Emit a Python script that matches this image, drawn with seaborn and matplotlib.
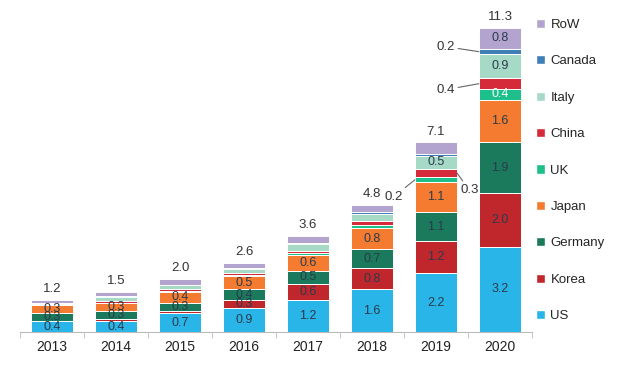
import matplotlib
matplotlib.use("Agg")
import matplotlib.pyplot as plt
import seaborn as sns
import numpy as np
import pandas as pd
from matplotlib.patches import Patch

sns.set_style("white")
plt.rcParams["font.family"] = ["Liberation Sans", "DejaVu Sans"]

# data, stacked bottom -> top
years = ["2013", "2014", "2015", "2016", "2017", "2018", "2019", "2020"]
us      = [0.4, 0.4, 0.7, 0.9, 1.2, 1.6, 2.2, 3.2]
korea   = [0.02, 0.08, 0.1, 0.3, 0.6, 0.8, 1.2, 2.0]
germany = [0.3, 0.3, 0.3, 0.4, 0.5, 0.7, 1.1, 1.9]
japan   = [0.3, 0.3, 0.4, 0.5, 0.6, 0.8, 1.1, 1.6]
uk      = [0.01, 0.02, 0.03, 0.03, 0.05, 0.1, 0.2, 0.4]
china   = [0.03, 0.07, 0.07, 0.08, 0.1, 0.15, 0.3, 0.4]
italy   = [0.04, 0.15, 0.15, 0.15, 0.25, 0.28, 0.5, 0.9]
canada  = [0.0, 0.02, 0.02, 0.02, 0.02, 0.05, 0.05, 0.2]
row     = [0.1, 0.16, 0.23, 0.22, 0.28, 0.28, 0.45, 0.8]
totals  = [1.2, 1.5, 2.0, 2.6, 3.6, 4.8, 7.1, 11.3]

series = {
    "US": (us, "#29b5e8"),
    "Korea": (korea, "#c0272d"),
    "Germany": (germany, "#1b7a5c"),
    "Japan": (japan, "#f47b2f"),
    "UK": (uk, "#1dbf8b"),
    "China": (china, "#d42a3a"),
    "Italy": (italy, "#a6d9c6"),
    "Canada": (canada, "#3f7fb6"),
    "RoW": (row, "#b3a4cf"),
}

main_labeled = ["US", "Korea", "Germany", "Japan"]
extra_labels = [("2019", "Italy"), ("2020", "Italy"), ("2020", "RoW"), ("2020", "UK")]
# (year, country, dx px, dy px, side) for labels with leader lines
leader_labels = [("2019", "UK", -12, -17, "left"), ("2019", "China", 3, -17, "right"),
                 ("2020", "Canada", -24, 5, "left"), ("2020", "China", -24, -6, "left")]

fig = plt.figure(figsize=(6.36, 3.79), dpi=100)
ax = fig.add_axes([20 / 636, 47 / 379, 512 / 636, 322 / 379])

txt_col = "#2b3a4c"
width = 0.66
bottom = np.zeros(len(years))
mids = {}
for name, (vals, col) in series.items():
    vals = np.array(vals)
    sns.barplot(x=years, y=vals, bottom=bottom, color=col, width=width,
                edgecolor="white", linewidth=0.7, ax=ax, saturation=1)
    for i, y in enumerate(years):
        mids[(y, name)] = (i, bottom[i] + vals[i] / 2, vals[i])
    bottom = bottom + vals

for (y, name), (i, m, v) in mids.items():
    show = (name in main_labeled and v >= 0.3) or (y, name) in extra_labels
    if show:
        c = "white" if name == "UK" else txt_col
        ax.text(i, m, f"{v:.1f}", ha="center", va="center", fontsize=9, color=c)

for y, name, dx, dy, side in leader_labels:
    i, m, v = mids[(y, name)]
    xe = i - width / 2 if side == "left" else i + width / 2
    ax.annotate(f"{v:.1f}", xy=(xe, m), xytext=(dx, dy), textcoords="offset pixels",
                ha="right" if side == "left" else "left", va="center", fontsize=9.5, color="#333333",
                arrowprops=dict(arrowstyle="-", color="#666666", lw=0.8, shrinkA=0, shrinkB=0))

for i, t in enumerate(totals):
    ax.text(i, bottom[i] + 0.17, f"{t:.1f}", ha="center", va="bottom", fontsize=9.5, color="#333333")

ax.set_xlim(-0.5, len(years) - 0.5)
ax.set_ylim(0, 322 / 26.7)
ax.set_yticks([])
ax.set_xlabel("")
ax.set_ylabel("")
for s in ["top", "right", "left"]:
    ax.spines[s].set_visible(False)
ax.spines["bottom"].set_color("#bbbbbb")
ax.set_xticks(np.arange(-0.5, len(years)), minor=True)
ax.tick_params(axis="x", which="major", length=0, labelsize=10, colors="#222222", pad=6)
ax.tick_params(axis="x", which="minor", length=4, color="#bbbbbb", direction="out", bottom=True)

handles = [Patch(facecolor=series[n][1], label=n) for n in reversed(list(series.keys()))]
ax.legend(handles=handles, loc="upper left", bbox_to_anchor=(524 / 636, 1 - 7 / 379),
          bbox_transform=fig.transFigure, frameon=False, handlelength=0.7, handleheight=0.7,
          handletextpad=0.4, labelspacing=1.83, fontsize=9.5)

fig.savefig("out.png", dpi=100)
